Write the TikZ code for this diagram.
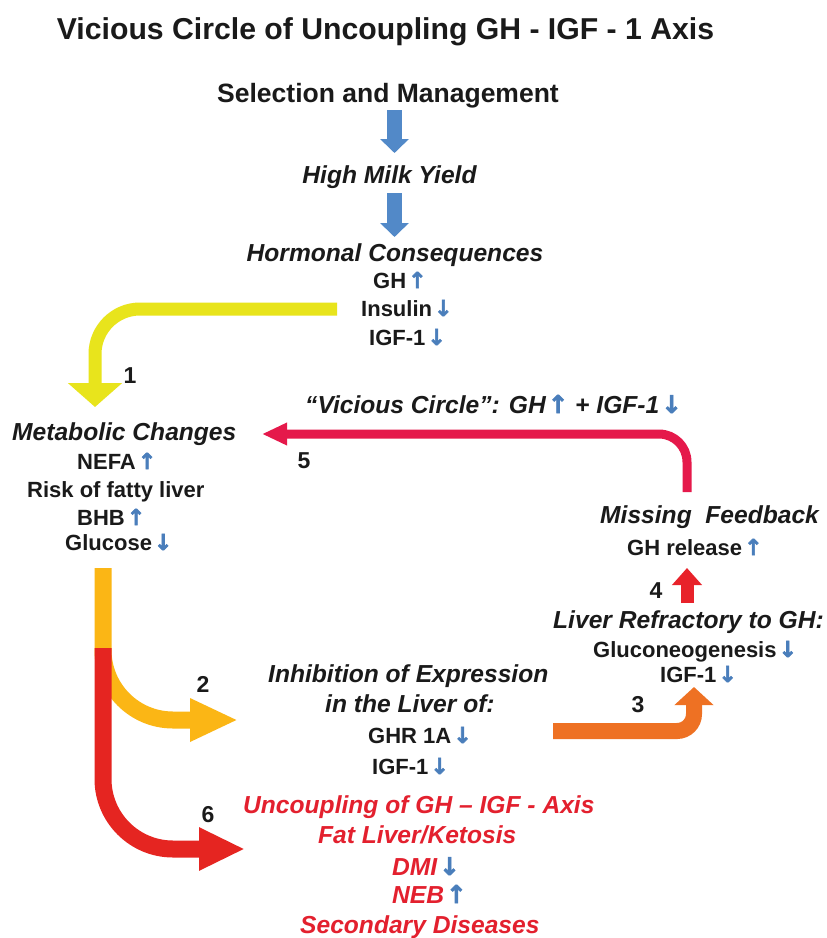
\documentclass[tikz,border=0pt]{standalone}
\usepackage{fontspec}
\setmainfont{Liberation Sans}
\newfontfamily\symfont[FakeBold=2.5]{DejaVu Sans}
\usetikzlibrary{arrows.meta}
\definecolor{ablue}{HTML}{5289C8}
\definecolor{tblue}{HTML}{4A7EBB}
\definecolor{yellowA}{HTML}{E8E41C}
\definecolor{amberA}{HTML}{FBB615}
\definecolor{redA}{HTML}{E52521}
\definecolor{crimsonA}{HTML}{E5194B}
\definecolor{orangeA}{HTML}{EE7123}
\definecolor{redB}{HTML}{E8222A}
\definecolor{textred}{HTML}{E3202E}
\definecolor{ink}{HTML}{1A1A1A}
\newcommand\uparr{\hspace{2pt}{\symfont\upshape\bfseries\color{tblue}↑}}
\newcommand\dnarr{\hspace{2pt}{\symfont\upshape\bfseries\color{tblue}↓}}
\tikzset{
  txt/.style={inner sep=0pt, anchor=base west, text=ink, font=\fontsize{22}{26}\selectfont\bfseries},
  hd/.style={inner sep=0pt, anchor=base west, text=ink, font=\fontsize{24.6}{29}\selectfont\bfseries\itshape},
  rtxt/.style={hd, text=textred},
  num/.style={inner sep=0pt, anchor=base, text=ink, font=\fontsize{23}{27}\selectfont\bfseries},
  bluearr/.style={draw=ablue, line width=15pt, -{Triangle[width=28pt,length=14pt]}},
  yelarr/.style={draw=yellowA, line width=13pt, rounded corners=45pt, -{Triangle[width=53pt,length=24pt]}},
  ambarr/.style={draw=amberA, line width=17pt, rounded corners=70pt, -{Triangle[width=40pt,length=48pt]}},
  redarr/.style={draw=redA, line width=17pt, rounded corners=70pt, -{Triangle[width=40pt,length=46pt]}},
  crimarr/.style={draw=crimsonA, line width=9pt, rounded corners=28pt, -{Triangle[width=21pt,length=25pt]}},
  orarr/.style={draw=orangeA, line width=16pt, rounded corners=17pt, -{Triangle[width=38pt,length=18pt]}},
  redup/.style={draw=redB, line width=13pt, -{Triangle[width=29pt,length=17pt]}},
}
\begin{document}
\begin{tikzpicture}[x=1pt,y=-1pt]
\path[use as bounding box, fill=white] (0,0) rectangle (827,938);

% ---- arrow end points ----
\coordinate (b1s) at (394.5,110);
\coordinate (b1e) at (394.5,153);
\coordinate (b2s) at (394.5,193);
\coordinate (b2e) at (394.5,237);
\coordinate (ys) at (337,309);
\coordinate (ye) at (95,407);
\coordinate (trunk) at (103,568);
\coordinate (ae) at (238,720);
\coordinate (rs) at (103,648);
\coordinate (re) at (245,849);
\coordinate (cs) at (687,492);
\coordinate (ce) at (262,434);
\coordinate (os) at (553,731);
\coordinate (oe) at (694,687);
\coordinate (r4s) at (687,603);
\coordinate (r4e) at (687,568);

% ---- arrows ----
\draw[bluearr] (b1s) -- (b1e);
\draw[bluearr] (b2s) -- (b2e);
\draw[yelarr] (ys) -| (ye);
\draw[ambarr] (trunk) |- (ae);
\draw[redarr] (rs) |- (re);
\draw[crimarr] (cs) |- (ce);
\draw[orarr] (os) -| (oe);
\draw[redup] (r4s) -- (r4e);

% ---- texts ----
\node[inner sep=0pt, anchor=base, text=ink, font=\fontsize{30.2}{36}\selectfont\bfseries] (title) at (385.5,39) {Vicious Circle of Uncoupling GH - IGF - 1 Axis};
\node[inner sep=0pt, anchor=base, text=ink, font=\fontsize{26.5}{31}\selectfont\bfseries] (sel) at (388,102) {Selection and Management};
\node[hd, anchor=base] (milk) at (389.5,183) {High Milk Yield};
\node[hd, anchor=base] (horm) at (395,261) {Hormonal Consequences};
\node[txt] (gh) at (373,288) {GH\uparr};
\node[txt] (ins) at (361,316) {Insulin\dnarr};
\node[txt] (igf) at (369,345) {IGF-1\dnarr};

\node[hd] (vic) at (305,413) {“Vicious Circle”: GH\uparr{} + IGF-1\dnarr};

\node[hd] (met) at (12,440) {Metabolic Changes};
\node[txt] (nefa) at (77,469) {NEFA\uparr};
\node[txt] (risk) at (27,497) {Risk of fatty liver};
\node[txt] (bhb) at (77,525) {BHB\uparr};
\node[txt] (glu) at (65,550) {Glucose\dnarr};

\node[hd] (miss) at (600,523) {Missing\ \ Feedback};
\node[txt] (ghr) at (627,555) {GH release\uparr};
\node[hd] (liv) at (553,628) {Liver Refractory to GH:};
\node[txt] (gluco) at (593,657) {Gluconeogenesis\dnarr};
\node[txt] (igf2) at (660,682) {IGF-1\dnarr};

\node[hd] (inh) at (268,682) {Inhibition of Expression};
\node[hd] (inl) at (325,712) {in the Liver of:};
\node[txt] (ghr1a) at (368,743) {GHR 1A\dnarr};
\node[txt] (igf3) at (372,774) {IGF-1\dnarr};

\node[rtxt] (unc) at (243,813) {Uncoupling of GH – IGF - Axis};
\node[rtxt] (fat) at (318,843) {Fat Liver/Ketosis};
\node[rtxt] (dmi) at (392,875) {DMI\dnarr};
\node[rtxt] (neb) at (392,903) {NEB\uparr};
\node[rtxt] (sec) at (300,933) {Secondary Diseases};

\node[num] (n1) at (130,383) {1};
\node[num] (n2) at (203,692) {2};
\node[num] (n3) at (638,712) {3};
\node[num] (n4) at (656,598) {4};
\node[num] (n5) at (304,468) {5};
\node[num] (n6) at (208,822) {6};
\end{tikzpicture}
\end{document}
